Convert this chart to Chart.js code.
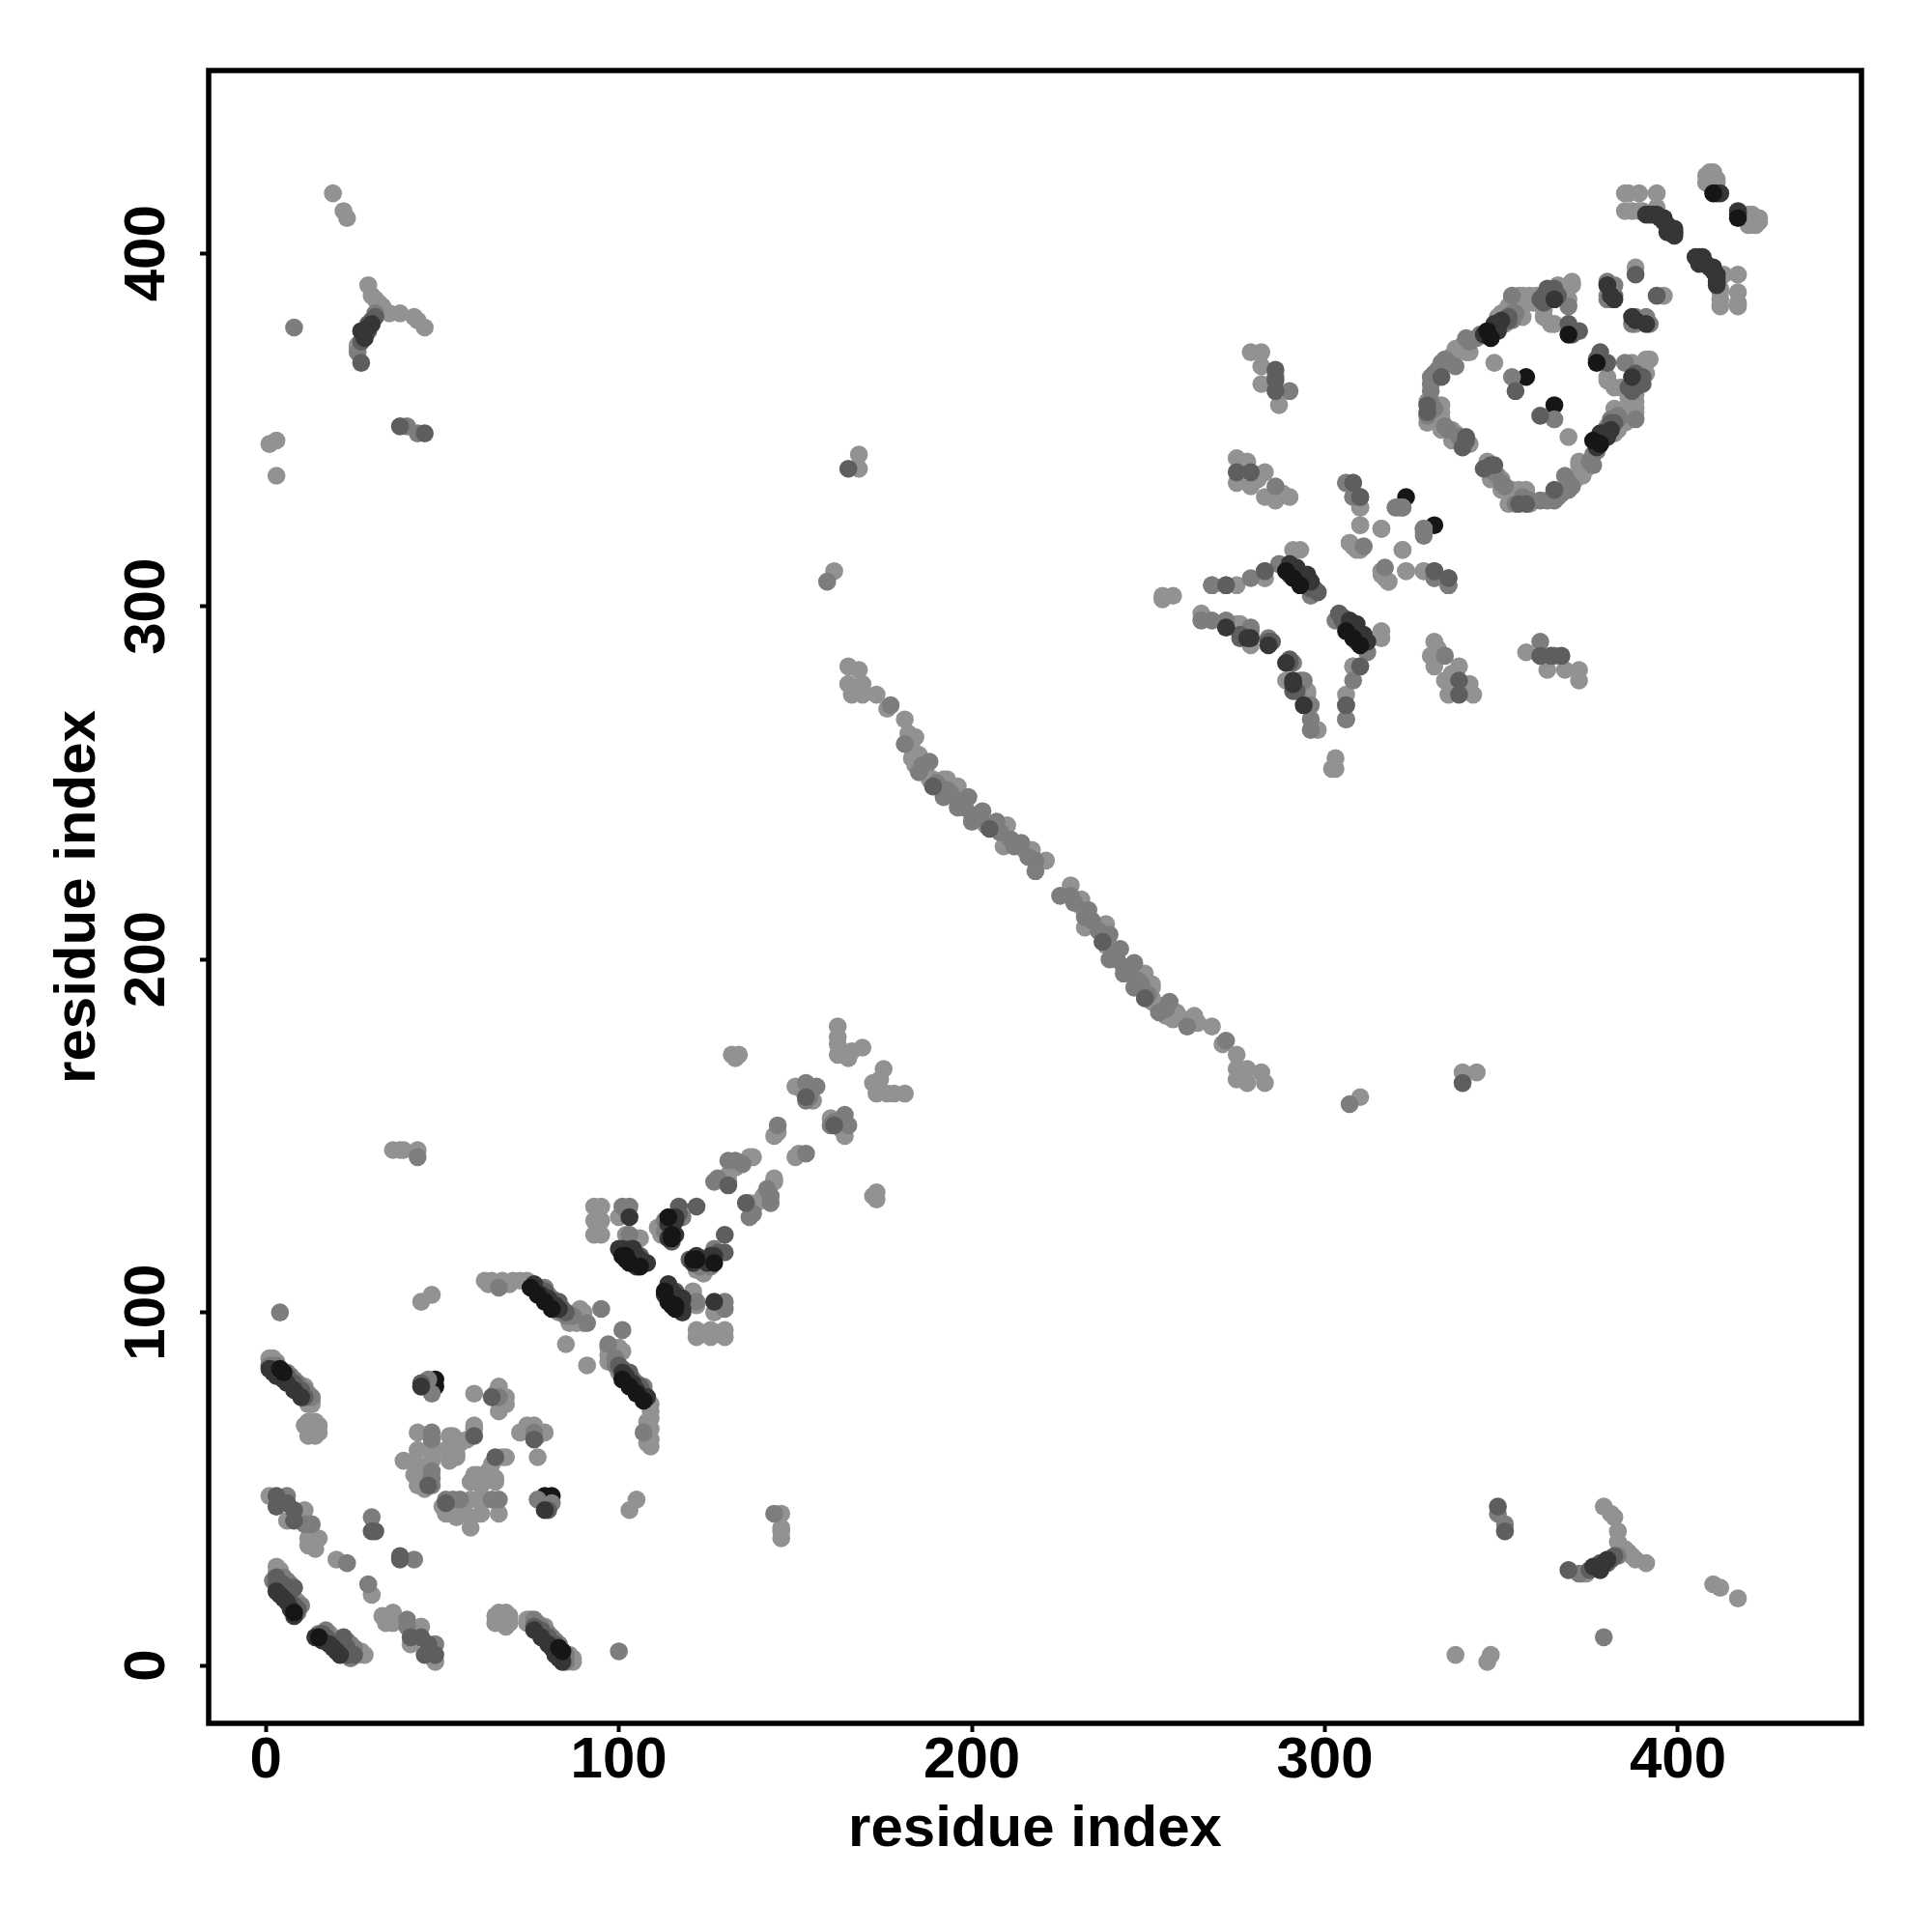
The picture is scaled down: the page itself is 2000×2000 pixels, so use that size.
<!DOCTYPE html>
<html><head><meta charset="utf-8">
<style>html,body{margin:0;padding:0;background:#fff}canvas{display:block}</style>
<script src="https://cdn.jsdelivr.net/npm/chart.js@4"></script>
</head><body><canvas id="c" width="2000" height="2000"></canvas>
<script>
const tickValues=[0,100,200,300,400];
const axisTitle="residue index";
// contact pairs, one half of the symmetric map, by grey level
const blackPairs=[[4,84],[5,83],[8,15],[75,107],[77,105],[79,103],[81,101],[114,127],[102,116],[103,114],[106,113],[115,122],[115,121],[101,116],[102,115],[289,310],[291,308],[293,306],[346,378],[347,376],[369,377],[410,417]];
const darkPairs=[[1,84],[2,83],[3,82],[5,81],[6,80],[8,78],[10,76],[3,21],[4,20],[5,19],[6,18],[7,16],[8,14],[44,79],[76,108],[78,105],[80,104],[82,102],[83,101],[103,127],[101,118],[104,118],[105,116],[105,114],[108,114],[116,122],[116,127],[27,378],[28,376],[29,379],[30,380],[28,378],[292,311],[295,309],[296,307],[290,312],[272,294],[279,291],[278,291],[284,289],[348,380],[350,381],[345,377],[349,378],[365,387],[381,388],[382,387],[380,391],[391,411],[392,411],[394,411],[395,410],[396,410],[397,408],[398,407],[399,407],[399,406],[393,411],[396,409],[399,405],[397,406],[412,417],[411,417],[102,117],[103,115],[104,114],[106,115],[107,114],[114,125],[114,121],[116,126],[100,118],[104,115],[105,113]];
const dimPairs=[[6,81],[8,79],[3,48],[6,46],[3,45],[8,44],[8,41],[5,23],[6,21],[3,23],[8,22],[30,38],[31,38],[44,80],[59,65],[64,76],[46,51],[153,161],[77,107],[79,106],[81,103],[83,103],[117,130],[122,130],[120,115],[131,136],[165,339],[27,369],[31,382],[27,375],[38,351],[45,349],[275,338],[279,338],[308,335],[310,331],[331,310],[272,306],[298,304],[276,292],[284,290],[276,291],[286,361],[286,364],[286,367],[310,283],[333,365],[340,348],[339,345],[329,355],[340,347],[329,357],[363,390],[365,390],[369,380],[372,378],[352,382],[362,386],[388,394],[189,249],[205,237],[354,361],[2,84],[3,83],[4,83],[5,82],[6,82],[7,80],[8,80],[9,78],[10,78],[11,76],[76,107],[78,106],[80,103],[82,103],[84,101],[85,100],[3,25],[4,23],[4,22],[5,21],[6,20],[6,19],[7,18],[7,17],[8,17],[8,16],[9,16],[103,118],[106,116],[115,124],[117,128],[101,117],[290,309],[291,310],[292,308],[293,309],[294,308],[295,306],[296,305],[297,305],[285,290],[347,377],[348,378],[349,379],[350,380],[351,381],[352,381],[361,387],[362,388],[364,388],[366,388],[28,377],[29,378],[29,380],[30,381],[370,378],[370,377]];
const midPairs=[[1,85],[7,82],[9,80],[10,77],[13,76],[13,40],[23,29],[6,48],[11,40],[2,24],[5,25],[7,20],[10,17],[30,42],[47,77],[46,81],[66,76],[47,66],[47,64],[47,53],[47,55],[47,51],[4,100],[78,107],[80,105],[84,100],[95,101],[91,97],[66,107],[87,99],[101,130],[103,130],[103,122],[114,123],[153,165],[156,164],[153,160],[154,161],[145,153],[127,137],[128,138],[131,143],[133,143],[135,142],[43,144],[159,307],[8,379],[26,372],[40,351],[43,349],[286,334],[306,335],[320,328],[322,328],[311,317],[328,321],[331,308],[335,308],[335,306],[268,306],[279,308],[283,310],[287,312],[296,303],[268,296],[279,293],[284,291],[272,296],[265,296],[279,294],[306,272],[306,268],[290,361],[286,365],[333,369],[337,368],[329,354],[330,361],[330,365],[340,376],[353,381],[380,387],[382,391],[380,392],[382,388],[353,388],[369,385],[177,272],[188,256],[193,248],[199,246],[203,242],[207,239],[208,236],[214,233],[218,228],[218,225],[185,253],[196,245],[200,241],[211,234],[192,246],[196,243],[200,239],[181,261],[186,255],[190,250],[194,247],[198,243],[202,240],[206,238],[212,232],[216,229],[3,85],[6,83],[8,81],[11,78],[79,107],[81,104],[83,102],[85,99],[3,24],[6,24],[9,15],[113,123],[118,127],[115,125],[113,126],[353,383],[354,383],[31,383],[330,363],[331,366],[332,367],[334,370],[335,369],[330,358],[331,356],[334,351],[335,350],[338,348],[341,375],[343,376],[344,377],[353,365]];
const lightPairs=[[1,87],[2,87],[3,86],[10,79],[11,79],[12,77],[13,75],[12,74],[12,75],[13,74],[11,68],[12,67],[12,65],[13,66],[14,65],[15,68],[15,66],[14,69],[12,69],[13,68],[14,67],[1,48],[6,41],[11,44],[15,36],[13,35],[12,36],[14,33],[12,34],[20,30],[3,28],[3,26],[4,27],[4,25],[8,19],[9,18],[7,23],[7,22],[59,77],[66,79],[68,76],[65,76],[65,77],[66,75],[66,72],[68,74],[43,66],[43,61],[47,62],[39,58],[42,58],[47,58],[47,60],[42,54],[43,51],[45,50],[45,51],[46,52],[44,52],[45,56],[52,65],[53,65],[52,61],[54,60],[52,58],[55,63],[53,62],[54,64],[59,68],[59,67],[57,64],[53,59],[51,61],[52,60],[54,59],[62,109],[64,109],[67,109],[69,108],[70,109],[72,109],[74,109],[85,91],[89,101],[88,100],[86,98],[83,100],[90,97],[90,100],[63,108],[87,98],[86,97],[88,97],[93,130],[95,130],[93,126],[95,126],[93,122],[95,122],[106,121],[100,127],[111,124],[113,124],[104,119],[102,122],[112,124],[104,120],[105,121],[112,122],[132,173],[134,173],[133,172],[162,181],[162,176],[162,173],[165,172],[166,174],[169,175],[162,178],[150,164],[155,160],[152,163],[144,150],[145,151],[131,137],[131,139],[137,144],[138,144],[133,141],[36,146],[38,146],[39,146],[43,146],[44,103],[47,105],[168,343],[168,339],[161,310],[254,302],[257,303],[254,303],[19,417],[22,412],[23,410],[29,391],[30,388],[32,386],[31,387],[33,385],[35,383],[38,383],[42,382],[43,381],[45,379],[26,374],[26,373],[1,346],[3,347],[3,337],[275,342],[278,341],[275,335],[279,334],[283,338],[283,331],[286,330],[290,331],[288,332],[281,336],[308,331],[310,328],[310,323],[307,318],[309,316],[316,322],[328,322],[322,316],[316,310],[317,308],[318,307],[323,310],[328,310],[283,308],[291,316],[293,316],[275,306],[279,289],[272,295],[275,295],[265,298],[276,295],[308,283],[287,357],[282,363],[282,372],[279,372],[282,368],[332,357],[329,352],[333,352],[333,350],[336,349],[336,347],[336,350],[333,353],[333,357],[337,372],[341,372],[337,373],[340,372],[353,387],[357,387],[356,382],[359,386],[370,392],[369,387],[362,382],[364,380],[365,380],[362,384],[370,391],[348,369],[351,380],[354,384],[356,385],[358,387],[355,388],[361,388],[366,391],[380,388],[388,396],[385,417],[386,417],[389,417],[394,417],[385,412],[387,412],[390,412],[394,413],[389,412],[408,422],[409,422],[410,423],[408,420],[411,420],[409,421],[411,421],[409,423],[410,419],[165,283],[168,282],[165,278],[166,275],[169,278],[169,275],[173,275],[176,271],[181,268],[182,264],[184,263],[183,257],[185,258],[188,251],[192,251],[193,251],[189,251],[196,249],[204,238],[210,238],[209,232],[215,231],[217,231],[221,228],[183,260],[184,255],[187,253],[191,249],[195,247],[329,358],[331,353],[332,354],[336,371],[338,373],[339,374],[339,347],[337,349],[341,346],[352,385],[354,386],[355,387],[356,388],[358,388],[360,388],[367,389],[368,390],[369,391],[350,383],[349,382],[351,383],[333,355]];
const topPairs=[[48,81],[48,79],[323,331],[357,365]];
const greys={black:'#161616',dark:'#363636',dim:'#5e5e5e',mid:'#7d7d7d',light:'#929292',top:'#161616'};
const layers=[['black',blackPairs],['dark',darkPairs],['dim',dimPairs],['mid',midPairs],['light',lightPairs],['top',topPairs]];
const datasets=layers.map(([name,pairs])=>({
  label:name,
  data:pairs.flatMap(([i,j])=>[{x:i,y:j},{x:j,y:i}]),
  backgroundColor:greys[name],
  borderWidth:0,
  pointRadius:9.3,
  pointHoverRadius:9.3
}));
const frame={id:'frame',
  beforeDraw(chart){
    const ctx=chart.ctx;ctx.save();ctx.fillStyle='#fff';ctx.fillRect(0,0,chart.width,chart.height);ctx.restore();
    chart.scales.y.getLabelItems(chart.chartArea).forEach(it=>{it.options.textAlign='center';it.options.textBaseline='middle';});
  },
  afterDraw(chart){
    const {left,top,width,height}=chart.chartArea,ctx=chart.ctx;
    ctx.save();ctx.strokeStyle='#000';ctx.lineWidth=5.5;ctx.strokeRect(left,top,width,height);ctx.restore();
  }};
const fontSpec={family:'"Liberation Sans", Arial, sans-serif',size:60,weight:'bold'};
const setTicks=s=>{s.ticks=tickValues.map(v=>({value:v,label:String(v)}));};
new Chart(document.getElementById('c'),{
  type:'scatter',
  data:{datasets},
  plugins:[frame],
  options:{
    responsive:false,animation:false,devicePixelRatio:1,
    layout:{padding:{top:73,right:73,left:0,bottom:0}},
    plugins:{legend:{display:false},tooltip:{enabled:false}},
    scales:{
      x:{type:'linear',min:-16.2,max:452,
        afterBuildTicks:setTicks,
        afterFit(s){s.height=216;s.paddingLeft=0;s.paddingRight=0;},
        border:{display:false},
        grid:{drawOnChartArea:false,drawTicks:true,tickLength:9,tickWidth:4,tickColor:'#000',color:'#000'},
        ticks:{color:'#000',font:fontSpec,padding:-6,maxRotation:0,minRotation:0,autoSkip:false,callback:v=>String(v)},
        title:{display:true,text:axisTitle,color:'#000',font:fontSpec,padding:{top:0,bottom:70}}
      },
      y:{type:'linear',min:-16.4,max:451.8,
        afterBuildTicks:setTicks,
        afterFit(s){s.width=216;s.paddingTop=0;s.paddingBottom=0;},
        border:{display:false},
        grid:{drawOnChartArea:false,drawTicks:true,tickLength:9,tickWidth:4,tickColor:'#000',color:'#000'},
        ticks:{color:'#000',font:fontSpec,padding:54,minRotation:90,maxRotation:90,autoSkip:false,callback:v=>String(v)},
        title:{display:true,text:axisTitle,color:'#000',font:fontSpec,padding:{top:45,bottom:0}}
      }
    }
  }
});
</script></body></html>
